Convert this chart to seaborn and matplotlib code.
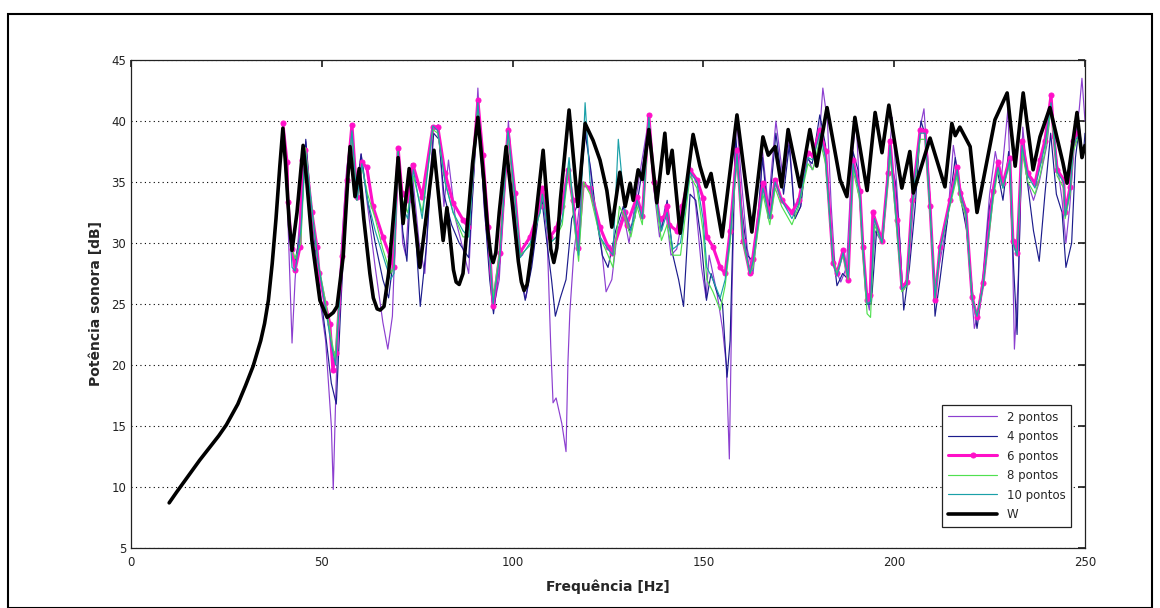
import numpy as np
import pandas as pd
import matplotlib
matplotlib.use("Agg")
import matplotlib.pyplot as plt
import seaborn as sns
from matplotlib.patches import Rectangle

# W (potencia de referencia)
w_f = [10, 12, 15, 18, 20, 23, 25, 28, 30, 32, 34, 35, 36, 37, 38, 39, 39.8,
       40.5, 41.5, 42.2, 43.5, 45.1, 46.1, 47.4, 49.5, 51.4, 53, 54, 55.6, 56.9, 57.4,
       58.7, 59.8, 61, 62.6, 63.5, 64.5, 65.3, 66.3, 67.5, 69, 70.0, 71.3, 72.9, 74.3,
       75.7, 77.5, 79.4, 81.8, 82.8, 84.5, 85.2, 86.0, 87, 88, 89.5, 90.9, 92.5, 93.5,
       94.3, 94.9, 95.6, 96.5, 98.3, 100, 101.5, 102.3, 103.0, 103.8, 105.5, 108.0,
       110, 110.8, 111.6, 112.5, 114.8, 117.1, 119.0, 121.1, 122.9, 124.7, 126,
       128.1, 129.5, 130.8, 131.6, 132.9, 134, 135.7, 137.8, 139.9, 140.7, 141.8,
       143.9, 147.3, 149.1, 150.7, 152, 154.9, 158.8, 162.7, 165.6, 167, 168.8,
       170.5, 172.2, 175.3, 177.9, 179.7, 182.4, 185.8, 187.6, 189.7, 192.9, 195.0,
       196.8, 198.6, 202.0, 204.1, 205, 209.4, 213.3, 215.1, 216, 217.2, 219.9,
       221.7, 226.4, 229.6, 231.7, 233.8, 236.4, 238.2, 240.8, 244.2, 245.3, 247.9,
       249.2, 250]
w_v = [8.7, 9.6, 10.9, 12.2, 13.0, 14.2, 15.1, 16.8, 18.3, 19.9, 22.0, 23.4, 25.3,
       28.3, 32.0, 36.3, 39.4,
       36.5, 31.5, 29.4, 32.5, 38.0, 34.9, 30.2, 25.3, 23.9, 24.3, 24.8, 28.9, 35.7, 37.9,
       33.8, 36.1, 32.0, 27.5, 25.5, 24.6, 24.5, 24.8, 27.5, 33.0, 37.0, 31.6, 36.1, 32.0,
       28.0, 32.5, 37.6, 30.2, 32.9, 27.8, 26.8, 26.6, 27.5, 31.0, 36.5, 40.3, 35.0, 31.0,
       29.0, 28.4, 29.2, 32.5, 37.9, 33.0, 28.5, 26.8, 26.1, 26.6, 30.5, 37.6,
       29.5, 28.4, 29.6, 33.5, 40.9, 33.0, 39.8, 38.4, 36.8, 34.3, 31.3,
       35.8, 33.0, 34.9, 33.5, 36.0, 35.2, 39.3, 33.3, 39.0, 35.7, 37.6,
       30.8, 38.9, 36.3, 34.6, 35.7, 30.5, 40.5, 30.9, 38.7, 37.2, 37.9,
       34.6, 39.3, 34.6, 39.3, 36.3, 41.1, 35.2, 33.8, 40.3, 34.3, 40.7,
       37.4, 41.3, 34.5, 37.5, 34.1, 38.6, 34.6, 39.8, 38.8, 39.5, 37.9,
       32.5, 40.1, 42.3, 36.3, 42.3, 36.0, 38.7, 41.1, 36.6, 34.9, 40.7,
       37.0, 38.0]

# 2 pontos
p2_f = [39.8, 41, 42.2, 43, 44.5, 45.8, 47.5, 49, 51, 52.5, 53, 53.7, 55, 56.5, 57.9,
        59, 60.3, 62, 64, 66, 67.3, 68.5, 70, 71.2, 72, 73.5, 75.5, 77, 79.2, 80.5, 82,
        83.2, 85, 87, 88.5, 90.9, 92.5, 94, 94.9, 96.5, 98.9, 100.5, 102, 103.5, 105.5,
        107.5, 109, 110, 110.6, 111.4, 112.9, 114, 114.5, 115, 116, 117.5, 119, 120,
        121.5, 123, 124.5, 126, 127.5, 129, 130.5, 132, 133.5, 135.7, 137, 138.5, 140,
        141.5, 143, 144.5, 146.5, 148, 149.5, 150.7, 151.5, 153.5, 155, 156, 156.8,
        157.5, 158.6, 160, 161.5, 163, 164.5, 165.5, 167, 169, 171, 172.5, 174, 175.5,
        177, 178.5, 180, 181.3, 182.5, 183.5, 184.5, 186, 187.5, 189, 190, 191.3,
        192.5, 193.5, 195, 196.8, 198.4, 199.5, 201, 202.2, 203.5, 205, 206.8, 207.8,
        209.3, 210.5, 212, 214, 215.5, 217, 218.5, 220, 221, 221.8, 223.3, 225, 226.5,
        228, 229.8, 231, 231.5, 232.5, 233.7, 235, 236.5, 238, 240, 241.2, 242.5, 244,
        245, 246, 247.2, 248.5, 249.2, 250]
p2_v = [39.5, 33, 21.8, 27, 33, 38.3, 31, 26.5, 22, 15, 9.8, 18, 29, 36, 39.5,
        34, 37.3, 33, 28, 23.5, 21.3, 24, 37.3, 30, 29, 36.5, 30, 27.5, 39.3, 39.7, 33,
        36.8, 32, 29.5, 27.5, 42.7, 33, 28, 24.5, 27, 40, 33, 27, 25.5, 29.5,
        34.5, 31, 21.5, 16.9, 17.3, 15.2, 12.9, 20.2, 24.3, 29, 33, 39.8, 37,
        33, 30.5, 26, 27, 31, 32.5, 30, 33, 36, 40.2, 34.5, 30.5, 33,
        29, 29.5, 32, 36.5, 33, 28, 25.5, 29, 26, 23, 20, 12.3,
        26, 40.5, 35, 29.5, 27.5, 32, 37.5, 33, 40, 35, 38.5, 32, 33,
        37.5, 36, 37, 42.7, 40, 33, 28, 26.8, 28, 37, 40.2, 32,
        26, 24.5, 31, 30, 36, 40.3, 33, 26, 27, 33, 39.5, 41,
        34, 26, 28.5, 32, 38, 35, 33, 27, 23, 24, 27.5, 34, 37.5,
        35, 41, 29.5, 21.3, 27, 39.5, 35, 33.5, 35, 38, 41.5, 37, 33.5,
        30, 33, 38, 41, 43.5, 40]

# 4 pontos
p4_f = [39.8, 41, 42.2, 43, 44.5, 45.8, 47.5, 49, 51, 52.5, 53.8, 55, 56.5, 57.9, 59,
        60.3, 62, 64, 66, 67.5, 68.5, 70, 71.2, 72.3, 73.5, 75.8, 77.5, 79.3, 80.7, 82,
        84, 86, 88.5, 90.9, 92.5, 94, 95, 96.5, 99, 100.5, 102, 103.3, 105, 107.5, 109,
        110.2, 111.2, 112.5, 114, 115.5, 117.5, 119, 120.5, 122, 123.5, 125, 127, 129,
        130.5, 132, 133.5, 135.7, 137.5, 139, 140.5, 142, 143.5, 144.8, 146.5, 148,
        149.5, 150.8, 152, 153.5, 155, 156.2, 157, 158.4, 160, 161.5, 163, 164.5, 165.5,
        167, 169, 171, 172.5, 174, 175.5, 177, 178.5, 180.5, 182, 183.5, 185, 186.5, 188,
        189.2, 190.5, 191.5, 192.9, 194, 195.5, 197, 198.6, 200.3, 201.5, 202.5, 204,
        205.5, 207, 208.5, 209.8, 210.7, 212, 214, 216, 217.5, 219, 220.5, 221.7, 223,
        225, 227, 228.5, 230, 231.3, 232.2, 233.5, 235.3, 236.5, 238, 239.5, 241, 242.5,
        244, 245, 246.5, 247.5, 248.5, 249.5, 250]
p4_v = [39, 33.5, 29, 28.5, 31, 38.5, 32, 27.5, 22.5, 18.5, 16.8, 25, 34, 39, 34,
        37.3, 33.5, 30, 27, 25.5, 28, 37.3, 31, 28.5, 36, 24.8, 30, 39, 38.5, 34,
        31.5, 30, 28.8, 41, 33.5, 27, 24.2, 28, 39.3, 33, 27.5, 25.3, 28, 34, 30,
        27, 24, 25.5, 27, 32, 33.5, 39, 36, 32, 29, 28, 31, 33,
        31, 32, 35, 39.8, 34, 31, 33.5, 29, 27, 24.8, 34, 33.5,
        30, 25.3, 27.5, 26, 25, 19, 22, 39, 33, 29, 28.5, 33, 37,
        32, 39, 34, 38, 32, 33, 37, 36.5, 40.5, 38, 30.5, 26.5, 27.5, 27,
        37.5, 36, 31, 25, 25, 31.5, 30, 37.5, 35, 30, 24.5, 28,
        33, 40, 38.5, 31, 24, 27, 32, 37, 33.5, 31, 26, 23, 26,
        33, 36, 33.5, 37.5, 28, 22.5, 38.5, 34, 31, 28.5, 34, 39, 34,
        32.5, 28, 30, 37, 39.5, 37, 39]

# 6 pontos
p6_f = [39.8, 40.9, 41.1, 42.2, 43, 44.3, 44.8, 45.6, 47.4, 48.7, 49.3, 50.8, 52.1,
        52.9, 53.8, 55.3, 56.6, 57.9, 59.2, 60.5, 61.8, 63.4, 66, 67.9, 68.8, 70, 71,
        72.5, 73.9, 76.3, 79.1, 80.4, 82.3, 84.4, 87, 88.4, 90.9, 92.2, 93.6, 94.9,
        96.7, 98.8, 100.6, 101.9, 104.6, 107.2, 107.8, 109.8, 111.5, 113, 114.5, 115.8,
        117.1, 118.5, 120.3, 122.9, 125, 126, 129.5, 130, 132.6, 134, 135.7, 137, 138.5,
        139.9, 140.5, 141, 143, 144.5, 146.5, 148.3, 149.9, 150.9, 152.5, 154.4, 155.7,
        157, 158.8, 160.4, 162.2, 162.9, 165.6, 167.4, 168.8, 170.5, 173.2, 175, 177.4,
        178.7, 180.5, 182, 184, 185, 186.6, 187.9, 189.2, 191, 191.8, 192.9, 193.7,
        194.4, 196.8, 198.4, 198.9, 200.7, 202, 203.3, 204.7, 206.8, 208.1, 209.4,
        210.7, 212, 214.6, 216.5, 217.3, 218.8, 220.4, 221.7, 223.3, 225.9, 227.2,
        228.5, 230.3, 231.1, 232.2, 233.5, 235, 236.9, 238.2, 239.5, 241.1, 241.8,
        242.7, 244.4, 244.8, 246.1, 246.9, 248]
p6_v = [39.8, 36.6, 33.4, 29.5, 27.8, 29.7, 36.8, 37.6, 32.5, 29.7, 27.5, 25.1, 23.4,
        19.6, 21, 28.9, 35.2, 39.7, 33.8, 36.6, 36.2, 33.0, 30.5, 28.9, 28.0, 37.8, 34.1,
        33.5, 36.4, 33.8, 39.5, 39.5, 35.7, 33.3, 31.9, 31.3, 41.7, 37.2, 31.3, 24.8,
        29.2, 39.3, 34.1, 29.2, 30.5, 33.0, 34.5, 30.5, 31.2, 33, 36, 33.5,
        29.6, 34.8, 34.5, 31.3, 29.7, 29.2, 32.5, 31.5, 33.8, 32.2, 40.5, 35, 32,
        32.2, 33, 31.5, 31, 33, 36.0, 35.2, 33.7, 30.5, 29.7, 28.0, 27.5,
        31, 37.6, 30.2, 27.5, 28.7, 34.9, 32.2, 35.2, 33.5, 32.5, 33.5, 37.4,
        37.2, 39.3, 37.5, 28.4, 27.5, 29.4, 27.0, 36.8, 34.3, 29.7, 25.3, 25.7,
        32.5, 30.2, 35.7, 38.4, 31.9, 26.4, 26.8, 33.5, 39.3, 39.2, 33.0,
        25.3, 29.7, 33.5, 36.2, 34.1, 32.7, 25.6, 23.9, 26.7, 34.3, 36.6,
        34.9, 37.0, 30.2, 29.2, 38.4, 35.7, 34.9, 36.8, 38.4, 42.1, 38.8,
        36.0, 35.2, 32.5, 34.6, 38.4, 39]

# 8 pontos
p8_f = [39.8, 41, 42.2, 43, 44.5, 45.7, 47.5, 49, 50.8, 52.3, 53.5, 55, 56.6, 57.9,
        59.2, 60.5, 62, 64, 66, 68, 68.9, 70, 71.1, 72.5, 74, 76.3, 79.1, 80.4, 82.3,
        84.4, 87, 88.5, 90.9, 92.2, 93.6, 94.9, 96.7, 98.8, 100.6, 102, 104.6, 107.2,
        107.8, 109.8, 111.5, 113, 114.8, 116, 117.3, 118.6, 120.3, 122.9, 125, 126.3,
        128, 129.5, 131, 132.6, 134, 135.7, 137.5, 139, 140.5, 142, 144, 146.5, 148.3,
        149.9, 150.9, 152.5, 154.4, 155.7, 157, 158.8, 160.4, 162.2, 163, 165.6, 167.4,
        168.8, 170.5, 173.2, 175, 177.4, 178.7, 180.5, 182, 184, 185, 186.6, 187.9,
        189.2, 191, 191.8, 192.9, 193.8, 194.8, 196.8, 198.4, 198.9, 200.7, 202, 203.3,
        204.7, 206.8, 208.1, 209.4, 210.7, 212, 214.6, 216.5, 217.3, 218.8, 220.4,
        221.7, 223.3, 225.9, 227.2, 228.5, 230.3, 231.1, 232.2, 233.5, 235, 236.9,
        238.2, 239.5, 241.1, 242, 242.7, 244.4, 244.8, 246.1, 246.9, 248]
p8_v = [39.5, 33.5, 29.5, 28.7, 30, 37.8, 32.5, 28.5, 25.5, 22.5, 20.5, 27.5, 35, 39,
        33.5, 36.3, 34, 32, 29.5, 27.5, 28, 37.5, 33.5, 32.5, 35.5, 32.5, 39.3, 39, 35,
        32.5, 30.5, 30.5, 41.2, 36.5, 30.5, 25.5, 29.5, 39, 33.5, 29, 29.8, 32.5,
        34, 30, 30.5, 31.5, 36.5, 32, 28.5, 35, 34, 30.5, 29, 28,
        33, 32, 30.5, 33, 31.5, 40, 33.5, 30.2, 31.5, 29, 29, 35.5, 34.5,
        31, 27, 26, 24.5, 26.5, 30, 37, 30, 27.5, 28, 34, 31.5,
        34.5, 33, 31.5, 33, 36.5, 36, 38.5, 36.5, 28.5, 27.5, 29, 27,
        36, 33.5, 29, 24.2, 23.9, 31.5, 30, 35, 37.5, 31, 26, 26.5,
        33, 38.5, 38.5, 32.5, 25.5, 29.5, 33, 35.5, 33.5, 32.2, 25.5,
        24, 26.5, 33.5, 36, 34.5, 36.5, 30, 29, 37.5, 35, 34,
        35.5, 37.5, 41, 38, 35.5, 34.5, 32, 34, 37.5, 38.5]

# 10 pontos
p10_f = [39.8, 41, 42.2, 43, 44.5, 45.7, 47.5, 49, 50.8, 52.3, 53.6, 55, 56.6, 57.9,
         59.2, 60.5, 62, 64, 66, 68, 68.9, 70, 71.1, 72.5, 74, 76.3, 79.1, 80.4, 82.3,
         84.4, 87, 88.5, 90.9, 92.2, 93.6, 94.9, 96.7, 98.8, 100.6, 102, 104.6, 107.2,
         107.8, 109.8, 111.5, 113, 114.8, 116, 117.3, 119, 120.3, 122.9, 125, 126.3,
         127.7, 129.5, 131, 132.6, 134, 135.7, 137.5, 139, 140.5, 142, 144, 146.5, 148.3,
         149.9, 150.9, 152.5, 154.4, 155.7, 157, 158.8, 160.4, 162.2, 163, 165.6, 167.4,
         168.8, 170.5, 173.2, 175, 177.4, 178.7, 180.5, 182, 184, 185, 186.6, 187.9,
         189.2, 191, 191.8, 192.9, 193.8, 194.8, 196.8, 198.4, 198.9, 200.7, 202, 203.3,
         204.7, 206.8, 208.1, 209.4, 210.7, 212, 214.6, 216.5, 217.3, 218.8, 220.4,
         221.7, 223.3, 225.9, 227.2, 228.5, 230.3, 231.1, 232.2, 233.5, 235, 236.9,
         238.2, 239.5, 241.1, 242, 242.7, 244.4, 244.8, 246.1, 246.9, 248]
p10_v = [39.5, 34, 28, 27.7, 31, 37.5, 32.5, 28.5, 25, 22, 20, 27, 34.5, 39.2,
         33.5, 36.5, 33.5, 31, 29, 27, 27.5, 37.5, 33, 32, 36, 32, 39.6, 39.2, 35,
         32.5, 31, 30.5, 41.5, 36.5, 30.5, 25, 29, 39.2, 33.8, 28.8, 30, 32.5,
         34, 30, 30.5, 32, 37, 32.5, 29, 41.5, 35, 30.5, 29.5, 29,
         38.5, 32.5, 31, 33.5, 32, 40.3, 34, 31, 32.5, 29.5, 30, 35.8, 35,
         32, 28, 27, 25.5, 27, 30.5, 37.3, 30.5, 27.5, 28.5, 34.5, 32,
         35, 33.5, 32, 33.2, 37, 36.8, 39, 37, 28.3, 27.3, 29.2, 27.2,
         36.5, 34, 29.5, 25, 25.2, 32, 30, 35.5, 38, 31.5, 26.2, 26.6,
         33.2, 39, 39, 32.8, 25.5, 29.5, 33.2, 36, 34, 32.5, 25.5,
         24, 26.5, 34, 36.2, 34.5, 36.8, 30, 29, 38, 35.5, 34.5,
         36.2, 38, 41.5, 38.5, 35.8, 35, 32.2, 34.3, 38, 38.7]

series = [
    ("2 pontos", p2_f, p2_v, "#8c3fd0", 0.85, None),
    ("4 pontos", p4_f, p4_v, "#1c1c8c", 0.85, None),
    ("6 pontos", p6_f, p6_v, "#ff10c8", 2.2, "o"),
    ("8 pontos", p8_f, p8_v, "#50e050", 0.85, None),
    ("10 pontos", p10_f, p10_v, "#1aa0a8", 0.85, None),
    ("W", w_f, w_v, "black", 2.6, None),
]

sns.set_theme(style="white")
plt.rcParams['font.family'] = ['DejaVu Sans']

fig = plt.figure(figsize=(11.6, 6.08), dpi=100)
ax = fig.add_axes([131 / 1160, 1 - 548 / 608, 954 / 1160, 488 / 608])

for name, f, v, col, lw, mk in series:
    df = pd.DataFrame({"f": f, "v": v})
    if mk:
        sns.lineplot(data=df, x="f", y="v", ax=ax, color=col, lw=lw, label=name,
                     sort=False, estimator=None, marker=mk, markersize=3.6,
                     markeredgecolor=col)
    else:
        sns.lineplot(data=df, x="f", y="v", ax=ax, color=col, lw=lw, label=name,
                     sort=False, estimator=None)

ax.set_xlim(0, 250)
ax.set_ylim(5, 45)
ax.set_xticks([0, 50, 100, 150, 200, 250])
ax.set_yticks([5, 10, 15, 20, 25, 30, 35, 40, 45])
ax.yaxis.grid(True, linestyle=(0, (1, 3)), color="black", lw=0.8)
ax.xaxis.grid(False)
ax.tick_params(direction="in", length=5, top=True, right=True, labelsize=8.5,
               colors="#222222")
ax.tick_params(axis="x", pad=6)
for s in ax.spines.values():
    s.set_color("#222222")
    s.set_linewidth(0.9)
ax.set_xlabel("Frequência [Hz]", fontsize=10, fontweight="bold", labelpad=7)
ax.set_ylabel("Potência sonora [dB]", fontsize=10, fontweight="bold", labelpad=6)

leg = ax.legend(loc="lower right", bbox_to_anchor=(0.992, 0.031), fontsize=8.5,
                frameon=True, fancybox=False, edgecolor="#222222", framealpha=1,
                handlelength=4.2, labelspacing=0.55, borderpad=0.5)
leg.get_frame().set_linewidth(0.9)

fig.patches.append(Rectangle((8 / 1160, 0.0), 1144 / 1160, 1 - 14 / 608,
                             transform=fig.transFigure, fill=False,
                             edgecolor="black", lw=1.5))

fig.savefig("out.png", dpi=100)
